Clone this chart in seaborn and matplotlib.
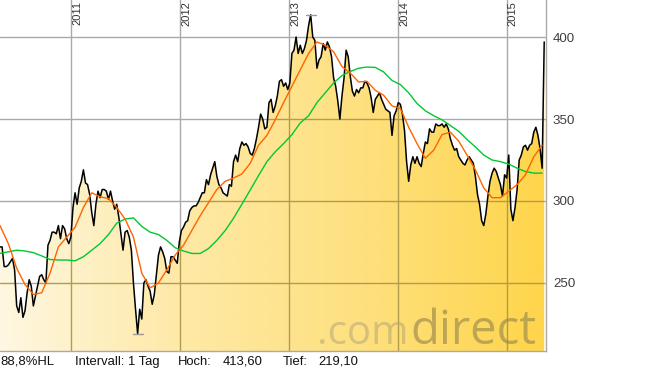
import numpy as np
import pandas as pd
import matplotlib
matplotlib.use("Agg")
import matplotlib.pyplot as plt
import matplotlib.dates as mdates
import matplotlib.transforms as mtransforms
from matplotlib.colors import LinearSegmentedColormap
import seaborn as sns

# ---------------- data ----------------
start_date = "2010-05-06"
price = [
    272, 272, 260, 260, 261, 263, 265, 258, 236, 232,
    241, 229, 233, 244, 252, 248, 236, 242, 248, 254,
    255, 252, 250, 273, 276, 281, 281, 280, 285, 277,
    285, 283, 277, 274, 278, 296, 305, 298, 308, 312,
    319, 311, 310, 304, 293, 285, 298, 306, 302, 307,
    307, 306, 301, 306, 300, 295, 298, 290, 280, 270,
    281, 282, 278, 270, 250, 234, 219.1, 234, 228, 250,
    252, 248, 245, 237, 243, 255, 267, 272, 269, 265,
    257, 256, 266, 266, 264, 262, 275, 282, 284, 287,
    288, 294, 296, 297, 297, 299, 302, 305, 305, 313,
    310, 316, 320, 324, 315, 310, 308, 305, 304, 303,
    310, 309, 324, 328, 324, 332, 336, 334, 335, 333,
    329, 328, 332, 338, 345, 353, 350, 344, 345, 360,
    362, 354, 358, 364, 373, 374, 370, 372, 368, 372,
    390, 392, 400, 390, 395, 390, 393, 398, 407, 413.6,
    400, 398, 381, 386, 388, 396, 392, 397, 394, 388,
    375, 370, 361, 350, 364, 375, 392, 388, 376, 367,
    364, 368, 366, 369, 369, 373, 372, 369, 363, 354,
    362, 364, 366, 362, 359, 356, 355, 354, 340, 352,
    355, 360, 359, 353, 343, 324, 312, 322, 327, 323,
    327, 323, 321, 329, 336, 335, 344, 342, 342, 347,
    346, 346, 347, 345, 347, 344, 338, 334, 331, 332,
    327, 325, 323, 322, 325, 327, 325, 323, 315, 304,
    298, 288, 285, 292, 303, 312, 317, 320, 318, 314,
    310, 303, 316, 314, 328, 295, 288, 296, 307, 325,
    328, 333, 334, 331, 334, 335, 342, 345, 340, 332,
    320, 397,
]
ma_short = [
    285, 274, 259, 249, 243, 244, 256, 272, 278, 284,
    296, 305, 302.5, 301.5, 296, 289, 278, 256, 247, 250,
    258, 267, 273, 282, 291, 299, 307, 312, 314, 316.5,
    323, 334, 340, 349.5, 360, 370, 380, 390, 397, 395,
    391, 382, 378, 372.6, 373, 367.5, 364.5, 358, 356.5, 345,
    335, 326, 331, 340.5, 342, 336.5, 328, 319, 308, 302,
    302, 306, 310, 316, 327, 334,
]
ma_long = [
    268, 269, 270, 269.5, 268.5, 266.5, 264.3, 264, 264, 263.5,
    266, 270, 274, 279.5, 286.5, 289, 289.7, 284.5, 281, 279.5,
    276, 271.5, 269.5, 268, 268, 271, 276, 282, 289.5, 298,
    306.7, 315.5, 324, 330, 335, 340.5, 347.6, 352, 360, 366,
    372, 376.5, 379, 381, 381.7, 381.5, 378.7, 373.5, 371, 366,
    359.5, 355, 352, 349.5, 346, 342.5, 337.5, 333, 328, 325,
    324, 322.5, 320, 318, 317, 317,
]
year_labels = ["2011", "2012", "2013", "2014", "2015"]
y_ticks = [250, 300, 350, 400]
footer = [("88,8%HL", 0), ("Intervall: 1 Tag", 75), ("Hoch:", 178),
          ("413,60", 223), ("Tief:", 283), ("219,10", 318)]

dates = pd.date_range(start_date, periods=len(price), freq="7D")
ma_dates = pd.date_range(start_date, periods=len(ma_short), freq="28D")
df = pd.DataFrame({"date": dates, "price": price})
dfm = pd.DataFrame({"date": ma_dates, "short": ma_short, "long": ma_long})

# ---------------- figure ----------------
sns.set_style("white")
plt.rcParams["font.family"] = ["Liberation Sans", "DejaVu Sans"]

W, H = 645, 380
fig = plt.figure(figsize=(W / 100, H / 100), dpi=100)
ax = fig.add_axes([0, (H - 351) / H, 546 / W, 351 / H])

x0 = mdates.date2num(pd.Timestamp(start_date))
x1 = mdates.date2num(pd.Timestamp("2015-05-13"))
y0, y1 = 208.5, 422.6
ax.set_xlim(x0, x1)
ax.set_ylim(y0, y1)

grid_white = "#a9a9a9"
grid_fill = "#b39b4c"
year_x = [mdates.date2num(pd.Timestamp(f"{y}-01-01")) for y in year_labels]

# gridlines on white
for yv in y_ticks:
    ax.axhline(yv, color=grid_white, lw=1.0, zorder=1)
for xv in year_x:
    ax.axvline(xv, color=grid_white, lw=1.0, zorder=1)

# gradient fill under price line
poly = ax.fill_between(mdates.date2num(dates), price, y0, facecolor="none",
                       edgecolor="none", zorder=2)
clip = poly.get_paths()[0]
cmap = LinearSegmentedColormap.from_list(
    "cd", ["#fff7e1", "#fee9a6", "#fee07e", "#fed54a"])
grad = np.linspace(0, 1, 512).reshape(1, -1)
im = ax.imshow(grad, extent=[x0, x1, y0, y1], aspect="auto", cmap=cmap,
               zorder=2, interpolation="bilinear")
im.set_clip_path(clip, ax.transData)

# gridlines over fill (darker)
for yv in y_ticks:
    l = ax.axhline(yv, color=grid_fill, lw=1.0, zorder=3)
    l.set_clip_path(clip, ax.transData)
for xv in year_x:
    l = ax.axvline(xv, color=grid_fill, lw=1.0, zorder=3)
    l.set_clip_path(clip, ax.transData)

# watermark
fig.text(409 / W, 1 - 344 / H, ".com", ha="right", va="baseline",
         fontsize=29, family=["Open Sans", "DejaVu Sans"],
         color="#b4a67a", alpha=0.55, zorder=2.5)
fig.text(410 / W, 1 - 344 / H, "direct", ha="left", va="baseline",
         fontsize=34, family=["Open Sans", "DejaVu Sans"],
         color="#9c8a4c", alpha=0.66, zorder=2.5)

# lines
sns.lineplot(data=df, x="date", y="price", ax=ax, color="black", lw=1.1,
             zorder=4, estimator=None)
sns.lineplot(data=dfm, x="date", y="long", ax=ax, color="#00c832", lw=1.0,
             zorder=5, estimator=None)
sns.lineplot(data=dfm, x="date", y="short", ax=ax, color="#ff6400", lw=1.0,
             zorder=6, estimator=None)

# high / low markers
imax = int(np.argmax(price))
imin = int(np.argmin(price))
for idx in (imax, imin):
    d = mdates.date2num(dates[idx])
    ax.plot([d - 17, d + 17], [price[idx], price[idx]], color="#999999",
            lw=1.0, zorder=4)

# year labels
trans = mtransforms.blended_transform_factory(ax.transData, ax.transAxes)
for xv, lab in zip(year_x, year_labels):
    ax.text(xv + 4, 1 - 1 / 351, lab, rotation=90, ha="left", va="top",
            fontsize=8.0, color="#333333", transform=trans, zorder=7,
            clip_on=False)

# axes styling
ax.set_xlabel("")
ax.set_ylabel("")
ax.set_xticks([])
ax.yaxis.tick_right()
ax.set_yticks(y_ticks)
ax.set_yticklabels([str(v) for v in y_ticks])
ax.tick_params(axis="y", length=0, pad=5, labelsize=9.6, labelcolor="#404040")
for s in ("top", "left"):
    ax.spines[s].set_visible(False)
for s in ("right", "bottom"):
    ax.spines[s].set_color(grid_white)
    ax.spines[s].set_linewidth(1.0)
    ax.spines[s].set_zorder(8)

# footer
for txt, px in footer:
    fig.text(px / W, 1 - 362 / H, txt, ha="left", va="center", fontsize=9.4,
             color="#111111")

fig.savefig("out.png", dpi=100)
